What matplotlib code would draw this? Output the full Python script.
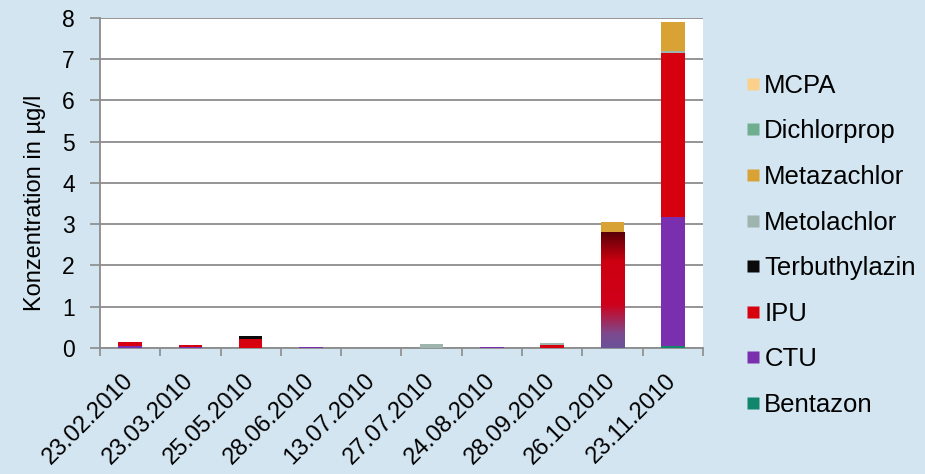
import numpy as np
import matplotlib
matplotlib.use("Agg")
import matplotlib.pyplot as plt
from matplotlib.lines import Line2D
from matplotlib.colors import LinearSegmentedColormap

plt.rcParams['font.family'] = ['Liberation Sans', 'DejaVu Sans']

dates = ["23.02.2010", "23.03.2010", "25.05.2010", "28.06.2010", "13.07.2010",
         "27.07.2010", "24.08.2010", "28.09.2010", "26.10.2010", "23.11.2010"]

# concentrations in µg/l per substance and sampling date
bentazon      = [0.00, 0.00, 0.00, 0.00, 0.00, 0.00, 0.00, 0.00, 0.00, 0.05]
ctu           = [0.04, 0.02, 0.00, 0.02, 0.00, 0.00, 0.02, 0.00, 0.35, 3.13]
ipu           = [0.10, 0.05, 0.22, 0.00, 0.00, 0.00, 0.00, 0.08, 2.45, 3.97]
terbuthylazin = [0.00, 0.00, 0.08, 0.01, 0.00, 0.00, 0.01, 0.00, 0.00, 0.00]
metolachlor   = [0.00, 0.00, 0.00, 0.00, 0.00, 0.10, 0.00, 0.04, 0.00, 0.06]
metazachlor   = [0.00, 0.00, 0.00, 0.00, 0.00, 0.00, 0.00, 0.00, 0.25, 0.69]
dichlorprop   = [0.00, 0.00, 0.00, 0.00, 0.00, 0.00, 0.00, 0.00, 0.00, 0.00]
mcpa          = [0.00, 0.00, 0.00, 0.00, 0.00, 0.00, 0.00, 0.00, 0.00, 0.00]

series = [
    ("Bentazon", bentazon, "#12866a"),
    ("CTU", ctu, "#7a2fae"),
    ("IPU", ipu, "#d6000f"),
    ("Terbuthylazin", terbuthylazin, "#0a0a0a"),
    ("Metolachlor", metolachlor, "#9eb4ae"),
    ("Metazachlor", metazachlor, "#d8a235"),
    ("Dichlorprop", dichlorprop, "#6fae8e"),
    ("MCPA", mcpa, "#fbd08a"),
]

bg = "#d3e5f1"
fig = plt.figure(figsize=(9.25, 4.74), dpi=100, facecolor=bg)
ax = fig.add_axes([0.108, 0.266, 0.652, 0.696])
ax.set_facecolor("white")

x = np.arange(len(dates))
width = 0.39
bottom = np.zeros(len(dates))
for name, vals, col in series:
    v = np.array(vals)
    ax.bar(x, v, width=width, bottom=bottom, color=col, edgecolor="none", zorder=3)
    bottom += v

# shaded fill on the CTU/IPU part of the October bar
i = dates.index("26.10.2010")
top = bentazon[i] + ctu[i] + ipu[i]
shade = LinearSegmentedColormap.from_list(
    "shade", [(0.0, "#6a529a"), (0.12, "#7c4a8e"), (0.38, "#d0001a"),
              (0.75, "#cc0010"), (1.0, "#5a0008")])
grad = np.linspace(0, 1, 256).reshape(-1, 1)
im = ax.imshow(grad, cmap=shade, origin="lower", aspect="auto",
               extent=(i - width / 2, i + width / 2, 0, top), zorder=4)
clip = plt.Rectangle((i - width / 2, 0), width, top, transform=ax.transData)
im.set_clip_path(clip)

ax.set_xlim(-0.5, len(dates) - 0.5)
ax.set_ylim(0, 8)
ax.set_yticks(range(0, 9))
ax.yaxis.grid(True, color="#8c8c8c", linewidth=1.3, zorder=1)
ax.tick_params(axis="y", length=7, width=1.2, color="#8c8c8c", labelsize=16.5, pad=11)

ax.set_xticks(x)
ax.set_xticklabels(dates, rotation=45, ha="right", va="center",
                   rotation_mode="anchor", fontsize=17)
ax.tick_params(axis="x", which="major", length=0, pad=21)
ax.set_xticks(np.arange(-0.5, len(dates)), minor=True)
ax.tick_params(axis="x", which="minor", length=6, width=1.2, color="#8c8c8c")

for side in ["top", "right"]:
    ax.spines[side].set_visible(False)
ax.spines["left"].set_color("#8c8c8c")
ax.spines["left"].set_linewidth(1.3)
ax.spines["bottom"].set_color("#8c8c8c")
ax.spines["bottom"].set_linewidth(1.3)

ax.set_ylabel("Konzentration in µg/l", fontsize=17)
ax.yaxis.set_label_coords(-0.09, 0.44)

handles = [Line2D([], [], marker="s", linestyle="none", markersize=8,
                  markerfacecolor=col, markeredgecolor="none", label=name)
           for name, vals, col in reversed(series)]
fig.legend(handles=handles, loc="upper left", bbox_to_anchor=(0.793, 0.866),
           frameon=False, fontsize=18.5, handletextpad=0.1, labelspacing=0.84,
           handlelength=0.7, borderaxespad=0)

fig.savefig("out.png", dpi=100, facecolor=bg)
